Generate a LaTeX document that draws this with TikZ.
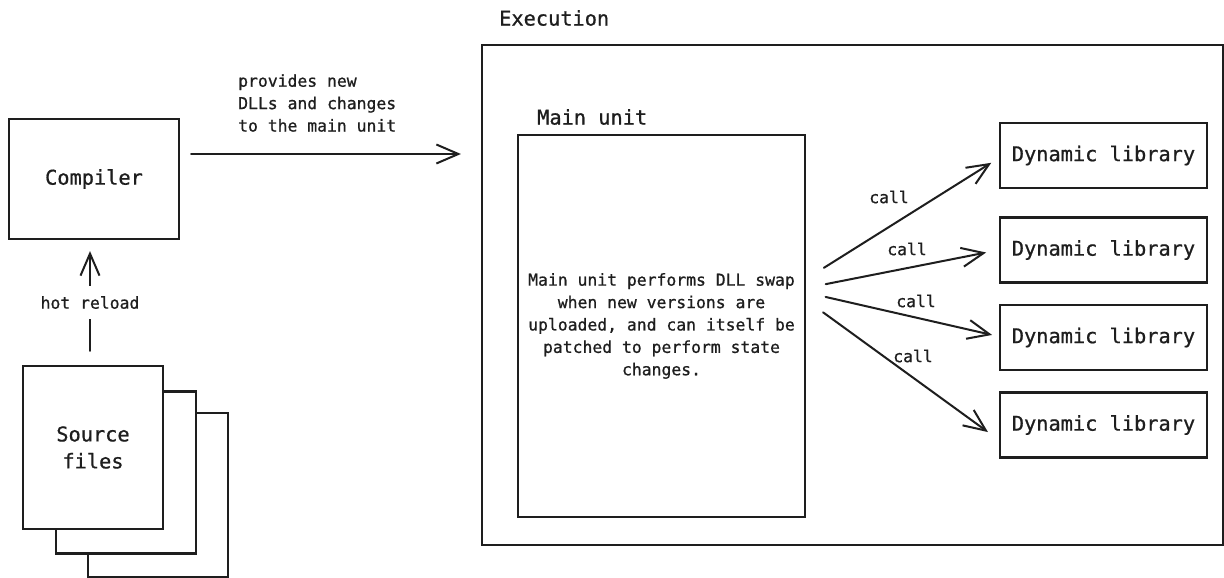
\documentclass[tikz,border=0pt]{standalone}
\usepackage{fontspec}
\newfontfamily\handfont[FakeBold=0.8]{DejaVu Sans Mono}
\usetikzlibrary{arrows.meta}
\definecolor{ink}{HTML}{1E1E1E}
\begin{document}
\begin{tikzpicture}[x=1pt,y=-1pt,
  box/.style={draw=ink, line width=2.2pt, fill=white, inner sep=0pt},
  big/.style={font=\handfont\fontsize{20.3}{27}\selectfont},
  small/.style={font=\handfont\fontsize{16.4}{22.4}\selectfont},
  arr/.style={draw=ink, line width=2pt, line cap=round,
    -{Straight Barb[length=22pt,width=19pt,line width=2pt]}},
  txt/.style={inner sep=0pt, text=ink}]
\useasboundingbox (0,0) rectangle (1224,578);
\fill[white] (0,0) rectangle (1224,578);

% left side
\node[box, big, text=ink, minimum width=170pt, minimum height=120pt] (comp) at (94,179) {Compiler};
\node[box, minimum width=140pt, minimum height=164pt] (src3) at (158,495) {};
\node[box, minimum width=140pt, minimum height=162pt] (src2) at (126,472.5) {};
\node[box, big, text=ink, align=center, minimum width=140pt, minimum height=163pt] (src1) at (93,447.5) {Source\\files};

% execution area
\node[box, minimum width=741pt, minimum height=500pt] (exec) at (852.5,295) {};
\node[txt, big, anchor=west] (lexec) at (499,18) {Execution};
\node[txt, big, anchor=west] (lmain) at (537,117) {Main unit};
\node[box, small, text=ink, align=center, minimum width=287pt, minimum height=382pt] (main) at (661.5,326)
  {Main unit performs DLL swap\\when new versions are\\uploaded, and can itself be\\patched to perform state\\changes.};

\node[box, big, text=ink, minimum width=207pt, minimum height=65pt] (d1) at (1103.5,155.5) {Dynamic library};
\node[box, big, text=ink, minimum width=207pt, minimum height=65pt] (d2) at (1103.5,250) {Dynamic library};
\node[box, big, text=ink, minimum width=207pt, minimum height=65pt] (d3) at (1103.5,337.5) {Dynamic library};
\node[box, big, text=ink, minimum width=207pt, minimum height=65pt] (d4) at (1103.5,425) {Dynamic library};

% compiler -> execution
\draw[arr, shorten <=11pt, shorten >=20pt] ([yshift=25pt]comp.east) -- ([yshift=141pt]exec.west);
\node[txt, small, anchor=west, align=left] (lprov) at (238,103) {provides new\\DLLs and changes\\to the main unit};

% hot reload
\draw[arr, shorten <=14pt, shorten >=11pt] ([xshift=-3pt]src1.north) -- ([xshift=-4pt]comp.south)
  node[midway, fill=white, inner xsep=2pt, inner ysep=10pt, small, text=ink] (lhot) {hot reload};

% calls
\draw[arr, shorten <=21pt, shorten >=9pt] ([yshift=47pt]main.east) -- ([yshift=-2.5pt]d1.west);
\draw[arr, shorten <=20pt, shorten >=13pt] ([yshift=38pt]main.east) -- (d2.west);
\draw[arr, shorten <=20pt, shorten >=7pt] ([yshift=33.5pt]main.east) -- ([yshift=1pt]d3.west);
\draw[arr, shorten <=21pt, shorten >=13.5pt] ([yshift=26pt]main.east) -- ([yshift=-15pt]d4.west);

\node[txt, small] (c1) at (889,197) {call};
\node[txt, small] (c2) at (907,249) {call};
\node[txt, small] (c3) at (916,301) {call};
\node[txt, small] (c4) at (913,356) {call};
\end{tikzpicture}
\end{document}
